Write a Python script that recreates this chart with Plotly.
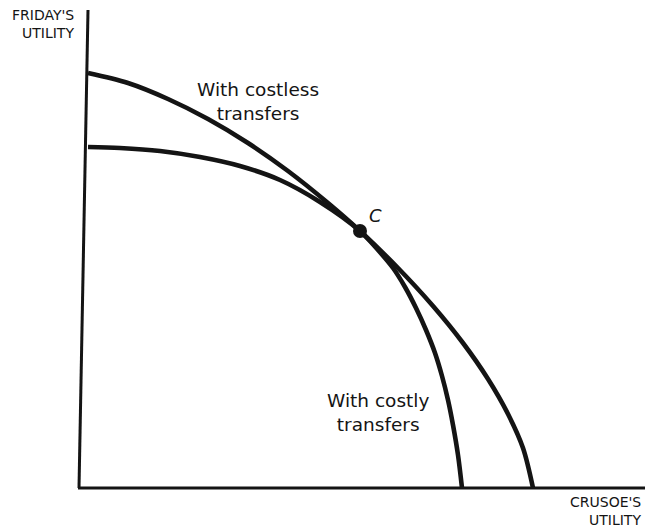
import plotly.graph_objects as go

# Utility-possibilities schedules (arbitrary utility units)
costless_crusoe = [0, 40, 80, 120, 160, 200, 240, 272, 310, 345, 375, 400, 420, 435, 445]
costless_friday = [415, 405, 389, 369, 345, 317, 285, 257, 220, 182, 145, 109, 74, 40, 0]

costly_crusoe = [0, 32, 72, 112, 152, 192, 232, 272, 290, 305, 317, 328, 338, 347, 354, 360, 365, 370, 374]
costly_friday = [341, 340, 337, 331, 322, 308, 286, 257, 238, 220, 201, 180, 158, 135, 112, 88, 63, 33, 0]

point_c_crusoe = [272]
point_c_friday = [257]

x_label = ["CRUSOE'S", "UTILITY"]
y_label = ["FRIDAY'S", "UTILITY"]
costless_label = ["With costless", "transfers"]
costly_label = ["With costly", "transfers"]

FONT = "DejaVu Sans"
INK = "#141414"

fig = go.Figure()
for xs, ys in [(costless_crusoe, costless_friday), (costly_crusoe, costly_friday)]:
    fig.add_trace(go.Scatter(x=xs, y=ys, mode="lines",
                             line=dict(color=INK, width=4.6, shape="spline", smoothing=0.9),
                             hoverinfo="skip"))
fig.add_trace(go.Scatter(x=point_c_crusoe, y=point_c_friday, mode="markers",
                         marker=dict(color=INK, size=14), hoverinfo="skip"))

# axes drawn as lines (scan shows slight slant of the vertical axis)
fig.add_shape(type="line", x0=0, y0=478, x1=-9, y1=0, line=dict(color=INK, width=3))
fig.add_shape(type="line", x0=-10, y0=0, x1=557, y1=0, line=dict(color=INK, width=3))

for txt, yy in zip(y_label, [473, 455]):
    fig.add_annotation(x=-12, y=yy, text=txt, showarrow=False,
                       xanchor="right", yanchor="middle",
                       font=dict(family=FONT, size=14, color=INK))
for txt, yy in zip(x_label, [-14, -32]):
    fig.add_annotation(x=555, y=yy, text=txt, showarrow=False,
                       xanchor="right", yanchor="middle",
                       font=dict(family=FONT, size=14, color=INK))

fig.add_annotation(x=170, y=387, text="<br>".join(costless_label), showarrow=False,
                   xanchor="center", yanchor="middle", align="center",
                   font=dict(family=FONT, size=18.5, color=INK))
fig.add_annotation(x=290, y=76, text="<br>".join(costly_label), showarrow=False,
                   xanchor="center", yanchor="middle", align="center",
                   font=dict(family=FONT, size=18.5, color=INK))
fig.add_annotation(x=287, y=273, text="<i>C</i>", showarrow=False,
                   xanchor="center", yanchor="middle",
                   font=dict(family=FONT, size=18, color=INK))

fig.update_layout(
    width=645, height=530,
    margin=dict(l=0, r=0, t=0, b=0),
    paper_bgcolor="white", plot_bgcolor="white",
    showlegend=False,
    xaxis=dict(range=[-88, 557], visible=False, fixedrange=True),
    yaxis=dict(range=[-42, 488], visible=False, fixedrange=True),
)

# remove the default 8px page margin so the figure fills the window exactly
fig.write_html("out.html",
               config={"displayModeBar": False},
               post_script="document.body.style.margin='0';document.body.style.overflow='hidden';")
